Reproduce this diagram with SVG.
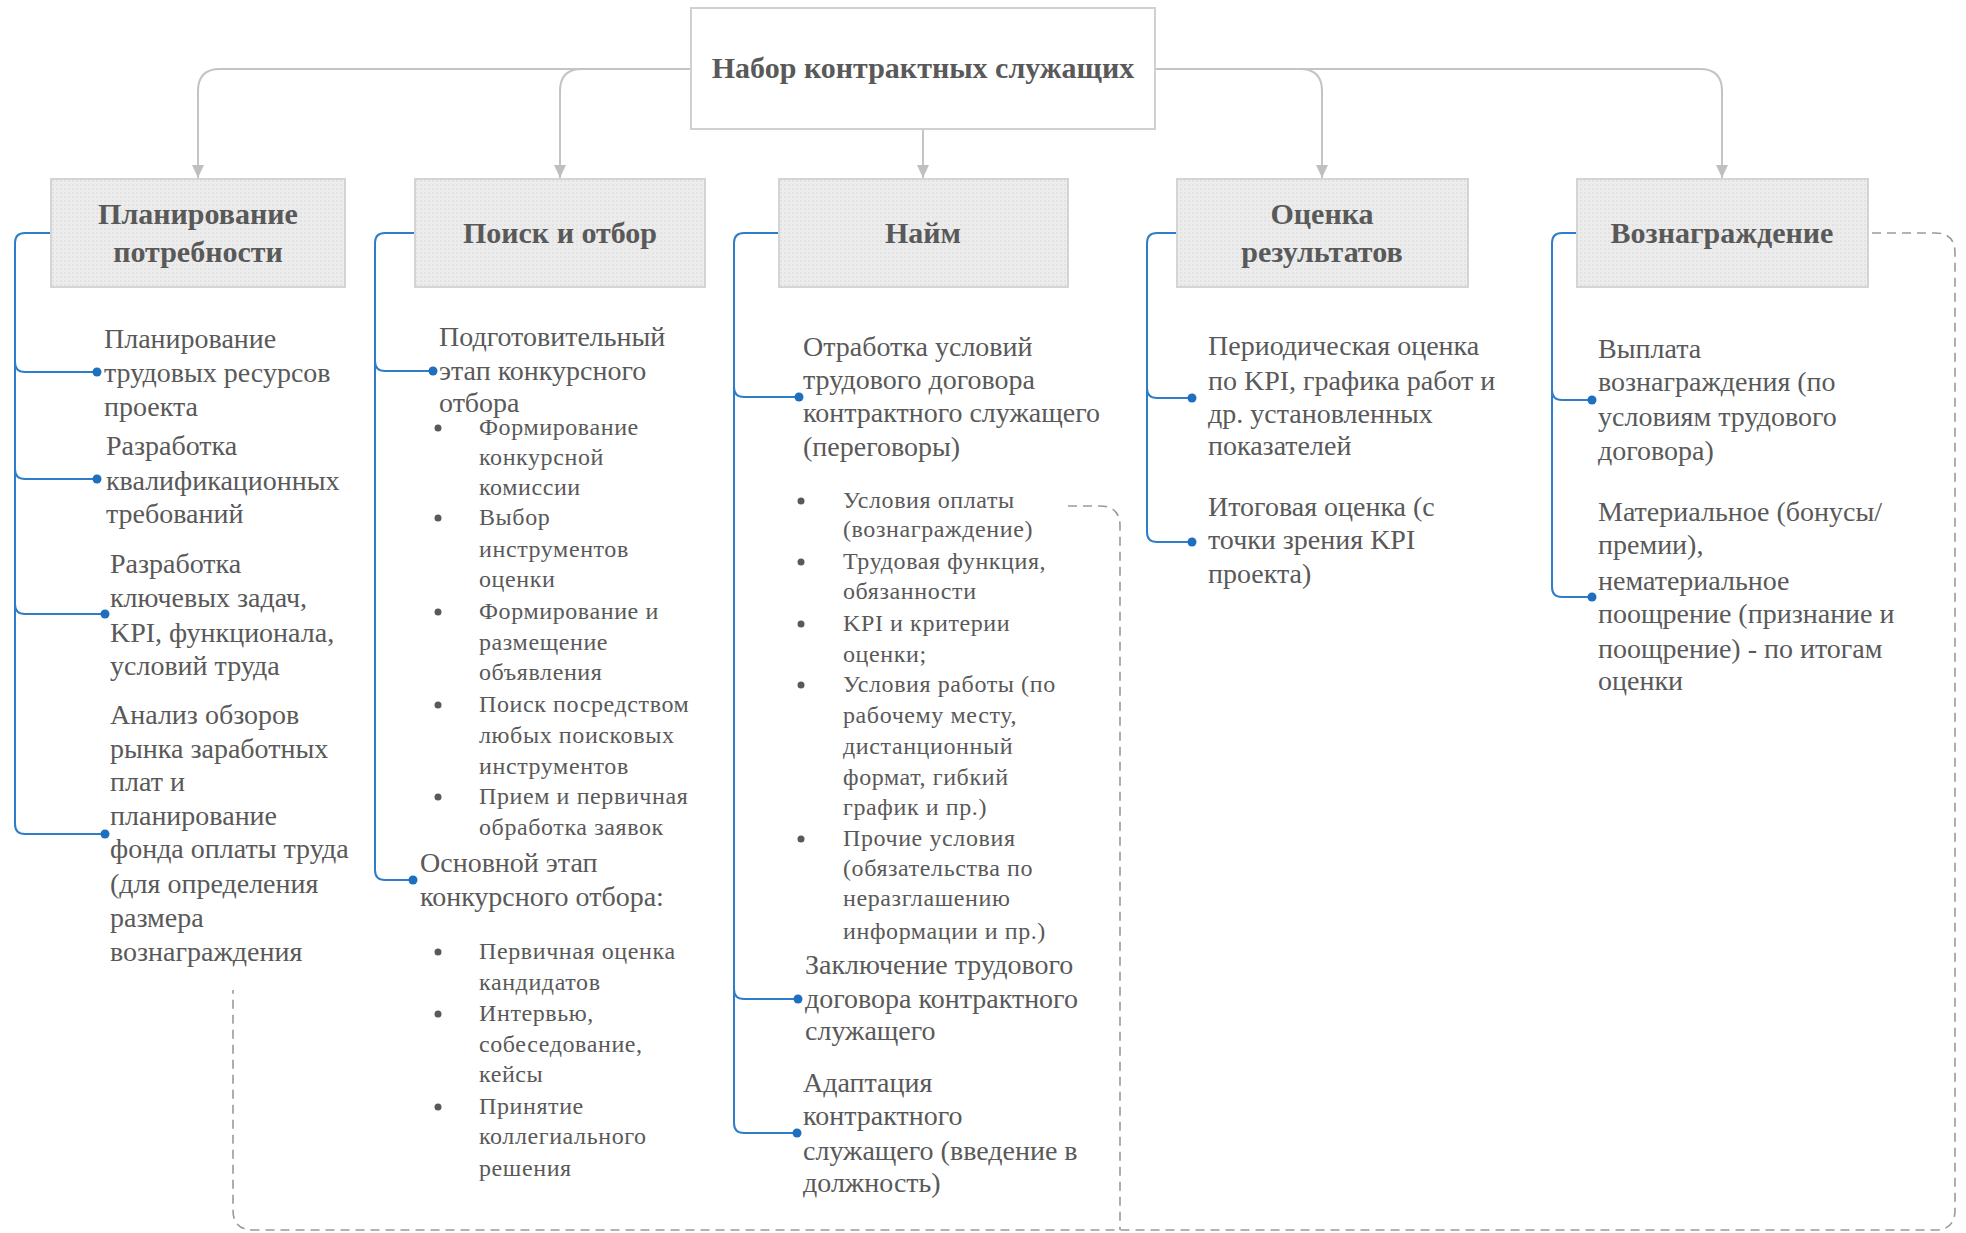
<svg xmlns="http://www.w3.org/2000/svg" width="1966" height="1233" viewBox="0 0 1966 1233">
<defs>
<pattern id="dots" width="4" height="4" patternUnits="userSpaceOnUse"><rect width="4" height="4" fill="#ececec"/><circle cx="1" cy="1" r="0.8" fill="#d8d8d8"/></pattern>
<marker id="arr" markerWidth="14" markerHeight="14" refX="13" refY="6" orient="auto" markerUnits="userSpaceOnUse"><path d="M0,0 L13,6 L0,12 Z" fill="#bfbfbf"/></marker>
</defs>
<style>
.box{fill:url(#dots);stroke:#d4d4d4;stroke-width:2}
.root{fill:#ffffff;stroke:#d0d0d0;stroke-width:2}
.ttl{font-family:"Liberation Serif","Times New Roman",serif;font-weight:bold;font-size:30px;fill:#595959;text-anchor:middle}
.t{font-family:"Liberation Serif","Times New Roman",serif;font-size:28px;fill:#595959}
.b{font-family:"Liberation Serif","Times New Roman",serif;font-size:24px;fill:#595959;letter-spacing:0.6px}
.gl{fill:none;stroke:#c4c4c4;stroke-width:2}
.bl{fill:none;stroke:#2f7dc9;stroke-width:2}
.dot{fill:#1f6fbf}
.bul{fill:#595959}
.dash{fill:none;stroke:#9a9a9a;stroke-width:1.6;stroke-dasharray:9 6}
</style>
<rect width="1966" height="1233" fill="#ffffff"/>

<g id="connectors">
  <path class="gl" d="M691,69 H220 Q198,69 198,91 V178" marker-end="url(#arr)"/>
  <path class="gl" d="M691,69 H582 Q560,69 560,91 V178" marker-end="url(#arr)"/>
  <path class="gl" d="M923,130 V178" marker-end="url(#arr)"/>
  <path class="gl" d="M1155,69 H1300 Q1322,69 1322,91 V178" marker-end="url(#arr)"/>
  <path class="gl" d="M1155,69 H1700 Q1722,69 1722,91 V178" marker-end="url(#arr)"/>

  <path class="bl" d="M51,233 H25 Q15,233 15,243 V824 Q15,834 25,834 H105"/>
  <path class="bl" d="M15,362 Q15,372 25,372 H97"/>
  <path class="bl" d="M15,469 Q15,479 25,479 H97"/>
  <path class="bl" d="M15,604 Q15,614 25,614 H105"/>
  <circle class="dot" cx="97" cy="372" r="4.5"/>
  <circle class="dot" cx="97" cy="479" r="4.5"/>
  <circle class="dot" cx="105" cy="614" r="4.5"/>
  <circle class="dot" cx="105" cy="834" r="4.5"/>

  <path class="bl" d="M415,233 H385 Q375,233 375,243 V870 Q375,880 385,880 H413"/>
  <path class="bl" d="M375,361 Q375,371 385,371 H433"/>
  <circle class="dot" cx="433" cy="371" r="4.5"/>
  <circle class="dot" cx="413" cy="880" r="4.5"/>

  <path class="bl" d="M779,233 H744 Q734,233 734,243 V1123 Q734,1133 744,1133 H797"/>
  <path class="bl" d="M734,387 Q734,397 744,397 H799"/>
  <path class="bl" d="M734,989 Q734,999 744,999 H798"/>
  <circle class="dot" cx="799" cy="397" r="4.5"/>
  <circle class="dot" cx="798" cy="999" r="4.5"/>
  <circle class="dot" cx="797" cy="1133" r="4.5"/>

  <path class="bl" d="M1177,233 H1157 Q1147,233 1147,243 V532 Q1147,542 1157,542 H1192"/>
  <path class="bl" d="M1147,388 Q1147,398 1157,398 H1192"/>
  <circle class="dot" cx="1192" cy="398" r="4.5"/>
  <circle class="dot" cx="1192" cy="542" r="4.5"/>

  <path class="bl" d="M1577,233 H1562 Q1552,233 1552,243 V587 Q1552,597 1562,597 H1592"/>
  <path class="bl" d="M1552,390 Q1552,400 1562,400 H1592"/>
  <circle class="dot" cx="1592" cy="400" r="4.5"/>
  <circle class="dot" cx="1592" cy="597" r="4.5"/>

  <path class="dash" d="M1872,233 H1935 Q1955,233 1955,253 V1210 Q1955,1230 1935,1230 H253 Q233,1230 233,1210 V990"/>
  <path class="dash" d="M1068,506 H1100 Q1120,506 1120,526 V1230"/>
</g>

<g id="root">
  <rect class="root" x="691" y="8" width="464" height="121"/>
  <text class="ttl" x="923" y="78">Набор контрактных служащих</text>
</g>

<g id="n-planning">
  <rect class="box" x="51" y="179" width="294" height="108"/>
  <text class="ttl" x="198" y="224">Планирование</text>
  <text class="ttl" x="198" y="262">потребности</text>
</g>
<g id="n-search">
  <rect class="box" x="415" y="179" width="290" height="108"/>
  <text class="ttl" x="560" y="243">Поиск и отбор</text>
</g>
<g id="n-hire">
  <rect class="box" x="779" y="179" width="289" height="108"/>
  <text class="ttl" x="923" y="243">Найм</text>
</g>
<g id="n-eval">
  <rect class="box" x="1177" y="179" width="291" height="108"/>
  <text class="ttl" x="1322" y="224">Оценка</text>
  <text class="ttl" x="1322" y="262">результатов</text>
</g>
<g id="n-reward">
  <rect class="box" x="1577" y="179" width="291" height="108"/>
  <text class="ttl" x="1722" y="243">Вознаграждение</text>
</g>

<g id="c1-1">
  <text class="t" x="104" y="348">Планирование</text>
  <text class="t" x="104" y="382">трудовых ресурсов</text>
  <text class="t" x="104" y="416">проекта</text>
</g>
<g id="c1-2">
  <text class="t" x="106" y="455">Разработка</text>
  <text class="t" x="106" y="490">квалификационных</text>
  <text class="t" x="106" y="523">требований</text>
</g>
<g id="c1-3">
  <text class="t" x="110" y="573">Разработка</text>
  <text class="t" x="110" y="607">ключевых задач,</text>
  <text class="t" x="110" y="642">KPI, функционала,</text>
  <text class="t" x="110" y="675">условий труда</text>
</g>
<g id="c1-4">
  <text class="t" x="110" y="724">Анализ обзоров</text>
  <text class="t" x="110" y="758">рынка заработных</text>
  <text class="t" x="110" y="791">плат и</text>
  <text class="t" x="110" y="825">планирование</text>
  <text class="t" x="110" y="858">фонда оплаты труда</text>
  <text class="t" x="110" y="893">(для определения</text>
  <text class="t" x="110" y="927">размера</text>
  <text class="t" x="110" y="961">вознаграждения</text>
</g>

<g id="c2-1">
  <text class="t" x="439" y="346">Подготовительный</text>
  <text class="t" x="439" y="380">этап конкурсного</text>
  <text class="t" x="439" y="412">отбора</text>
  <circle class="bul" cx="438" cy="428" r="3.5"/>
  <circle class="bul" cx="438" cy="518" r="3.5"/>
  <circle class="bul" cx="438" cy="612" r="3.5"/>
  <circle class="bul" cx="438" cy="705" r="3.5"/>
  <circle class="bul" cx="438" cy="797" r="3.5"/>
  <text class="b" x="479" y="435">Формирование</text>
  <text class="b" x="479" y="465">конкурсной</text>
  <text class="b" x="479" y="495">комиссии</text>
  <text class="b" x="479" y="525">Выбор</text>
  <text class="b" x="479" y="557">инструментов</text>
  <text class="b" x="479" y="587">оценки</text>
  <text class="b" x="479" y="619">Формирование и</text>
  <text class="b" x="479" y="650">размещение</text>
  <text class="b" x="479" y="680">объявления</text>
  <text class="b" x="479" y="712">Поиск посредством</text>
  <text class="b" x="479" y="743">любых поисковых</text>
  <text class="b" x="479" y="774">инструментов</text>
  <text class="b" x="479" y="804">Прием и первичная</text>
  <text class="b" x="479" y="835">обработка заявок</text>
</g>
<g id="c2-2">
  <text class="t" x="420" y="872">Основной этап</text>
  <text class="t" x="420" y="906">конкурсного отбора:</text>
  <circle class="bul" cx="438" cy="952" r="3.5"/>
  <circle class="bul" cx="438" cy="1014" r="3.5"/>
  <circle class="bul" cx="438" cy="1107" r="3.5"/>
  <text class="b" x="479" y="959">Первичная оценка</text>
  <text class="b" x="479" y="990">кандидатов</text>
  <text class="b" x="479" y="1021">Интервью,</text>
  <text class="b" x="479" y="1052">собеседование,</text>
  <text class="b" x="479" y="1082">кейсы</text>
  <text class="b" x="479" y="1114">Принятие</text>
  <text class="b" x="479" y="1144">коллегиального</text>
  <text class="b" x="479" y="1176">решения</text>
</g>

<g id="c3-1">
  <text class="t" x="803" y="356">Отработка условий</text>
  <text class="t" x="803" y="389">трудового договора</text>
  <text class="t" x="803" y="422">контрактного служащего</text>
  <text class="t" x="803" y="456">(переговоры)</text>
  <circle class="bul" cx="801" cy="501" r="3.5"/>
  <circle class="bul" cx="801" cy="562" r="3.5"/>
  <circle class="bul" cx="801" cy="624" r="3.5"/>
  <circle class="bul" cx="801" cy="685" r="3.5"/>
  <circle class="bul" cx="801" cy="839" r="3.5"/>
  <text class="b" x="843" y="508">Условия оплаты</text>
  <text class="b" x="843" y="537">(вознаграждение)</text>
  <text class="b" x="843" y="569">Трудовая функция,</text>
  <text class="b" x="843" y="599">обязанности</text>
  <text class="b" x="843" y="631">KPI и критерии</text>
  <text class="b" x="843" y="662">оценки;</text>
  <text class="b" x="843" y="692">Условия работы (по</text>
  <text class="b" x="843" y="723">рабочему месту,</text>
  <text class="b" x="843" y="754">дистанционный</text>
  <text class="b" x="843" y="785">формат, гибкий</text>
  <text class="b" x="843" y="815">график и пр.)</text>
  <text class="b" x="843" y="846">Прочие условия</text>
  <text class="b" x="843" y="876">(обязательства по</text>
  <text class="b" x="843" y="906">неразглашению</text>
  <text class="b" x="843" y="939">информации и пр.)</text>
</g>
<g id="c3-2">
  <text class="t" x="805" y="974">Заключение трудового</text>
  <text class="t" x="805" y="1008">договора контрактного</text>
  <text class="t" x="805" y="1040">служащего</text>
</g>
<g id="c3-3">
  <text class="t" x="803" y="1092">Адаптация</text>
  <text class="t" x="803" y="1125">контрактного</text>
  <text class="t" x="803" y="1160">служащего (введение в</text>
  <text class="t" x="803" y="1192">должность)</text>
</g>

<g id="c4-1">
  <text class="t" x="1208" y="355">Периодическая оценка</text>
  <text class="t" x="1208" y="390">по KPI, графика работ и</text>
  <text class="t" x="1208" y="423">др. установленных</text>
  <text class="t" x="1208" y="455">показателей</text>
</g>
<g id="c4-2">
  <text class="t" x="1208" y="516">Итоговая оценка (с</text>
  <text class="t" x="1208" y="549">точки зрения KPI</text>
  <text class="t" x="1208" y="583">проекта)</text>
</g>

<g id="c5-1">
  <text class="t" x="1598" y="358">Выплата</text>
  <text class="t" x="1598" y="391">вознаграждения (по</text>
  <text class="t" x="1598" y="426">условиям трудового</text>
  <text class="t" x="1598" y="460">договора)</text>
</g>
<g id="c5-2">
  <text class="t" x="1598" y="521">Материальное (бонусы/</text>
  <text class="t" x="1598" y="554">премии),</text>
  <text class="t" x="1598" y="590">нематериальное</text>
  <text class="t" x="1598" y="623">поощрение (признание и</text>
  <text class="t" x="1598" y="658">поощрение) - по итогам</text>
  <text class="t" x="1598" y="690">оценки</text>
</g>
</svg>
